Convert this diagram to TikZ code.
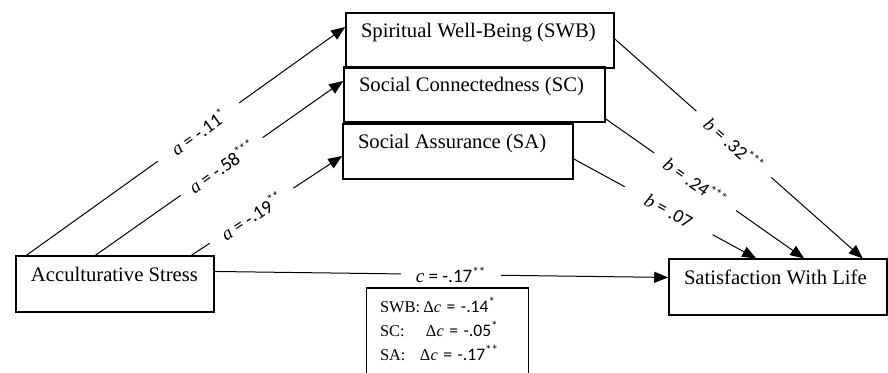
\documentclass[tikz,border=0pt]{standalone}
\usepackage{fontspec}
\setmainfont{Liberation Serif}
\newfontfamily\labelfont{Carlito}
\usetikzlibrary{arrows.meta}
\newcommand{\sig}[1]{\raisebox{0.32em}{\fontsize{6.5}{6}\selectfont #1}}
\newcommand{\coef}[3]{\textit{#1}{\labelfont{} = #2\sig{#3}}}
\newcommand{\vname}[2]{\makebox[#1][l]{#2}}
\newcommand{\dc}[1]{Δ\textit{c}{\labelfont\fontsize{8.8}{12}\selectfont{} = #1}}

\begin{document}
\begin{tikzpicture}[x=0.5pt, y=-0.5pt,
    varbox/.style={draw, line width=0.8pt, inner xsep=7.5pt, inner ysep=3pt,
        text height=9.5pt, text depth=12.25pt, font=\fontsize{10.33}{12}\selectfont},
    effect/.style={-{Triangle[length=7pt, width=5.5pt]}, line width=0.5pt},
    coeflabel/.style={sloped, fill=white, minimum width=50pt, inner xsep=1pt, inner ysep=0.5pt,
        font=\fontsize{9.5}{11}\selectfont}]
    \useasboundingbox (0,0) rectangle (888,372);
    \clip (0,0) rectangle (888,372);

    % Predictor
    \node[varbox] (stress) at (115,284) {\vname{84pt}{Acculturative Stress}};

    % Mediators
    \node[varbox] (swb) at (480,40.5) {\vname{119pt}{Spiritual Well-Being (SWB)}};
    \node[varbox] (sc) at (474.5,94.5) {\vname{115.5pt}{Social Connectedness (SC)}};
    \node[varbox] (sa) at (458,151.5) {\vname{100pt}{Social Assurance (SA)}};

    % Outcome
    \node[varbox] (life) at (778,287) {\vname{94pt}{Satisfaction With Life}};

    % a paths
    \draw[effect] ([xshift=5.5pt]stress.north west) -- node[coeflabel, pos=0.54] {\coef{a}{-.11}{*}} ([yshift=-7.5pt]swb.north west);
    \draw[effect] ([xshift=40pt]stress.north west) -- node[coeflabel, pos=0.51] {\coef{a}{-.58}{***}} ([yshift=-7.5pt]sc.north west);
    \draw[effect] ([xshift=88pt]stress.north west) -- node[coeflabel, pos=0.40] {\coef{a}{-.19}{**}} ([yshift=-16.5pt]sa.north west);

    % b paths
    \draw[effect] ([yshift=-13.5pt]swb.north east) -- node[coeflabel, pos=0.48] {\coef{b}{.32}{***}} ([xshift=-12.5pt]life.north east);
    \draw[effect] ([yshift=-26.5pt]sc.north east) -- node[coeflabel, pos=0.45] {\coef{b}{.24}{***}} ([xshift=68pt]life.north west);
    \draw[effect] ([yshift=-18pt]sa.north east) -- node[coeflabel, pos=0.52] {\coef{b}{.07}{}} ([xshift=44pt]life.north west);

    % c path
    \draw[effect] ([yshift=-8pt]stress.north east) -- node[coeflabel, sloped=false, pos=0.52] {\coef{c}{-.17}{**}} ([yshift=-9.5pt]life.north west);

    % indirect effects (box runs off the bottom edge)
    \node[anchor=north, align=left, text width=67.5pt, inner xsep=6.5pt, inner ysep=3pt,
        font=\fontsize{8.2}{12}\selectfont] (delta) at (447.5,288)
        {\rule{0pt}{9pt}\makebox[21.7pt][l]{SWB:}\dc{-.14\sig{*}}\\
         \makebox[23pt][l]{SC:}\dc{-.05\sig{*}}\\
         \makebox[20pt][l]{SA:}\dc{-.17\sig{**}}\\[30pt]\mbox{}};
    \draw[line width=0.8pt] (delta.south west) -- (delta.north west) -- (delta.north east) -- (delta.south east);
\end{tikzpicture}
\end{document}
